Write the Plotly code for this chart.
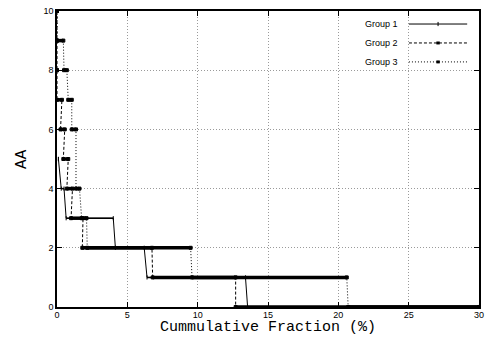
import plotly.graph_objects as go

# ---- data: step plateaus (level, start x, end x) ----
g1_levels = [5, 4, 3, 2, 1, 0]
g1_start = [0.1, 0.3, 0.65, 4.15, 6.4, 13.55]
g1_end = [0.1, 0.5, 4.0, 6.2, 13.4, 30.0]

g2_levels = [10, 9, 8, 7, 6, 5, 4, 3, 2, 1, 0]
g2_start = [0.0, 0.0, 0.0, 0.0, 0.25, 0.45, 0.7, 1.0, 1.8, 6.8, 12.7]
g2_end = [0.0, 0.0, 0.0, 0.35, 0.55, 0.8, 1.1, 1.85, 6.75, 12.7, 30.0]

g3_levels = [10, 9, 8, 7, 6, 4, 3, 2, 1, 0]
g3_start = [0.0, 0.0, 0.5, 0.8, 1.05, 1.35, 1.75, 2.15, 9.6, 20.7]
g3_end = [0.0, 0.45, 0.7, 1.05, 1.35, 1.6, 2.1, 9.5, 20.6, 30.0]

x_ticks = [0, 5, 10, 15, 20, 25, 30]
y_ticks = [0, 2, 4, 6, 8, 10]
names = ["Group 1", "Group 2", "Group 3"]
x_title = "Cummulative Fraction (%)"
y_title = "AA"


def path(levels, starts, ends):
    xs, ys = [], []
    for lv, s, e in zip(levels, starts, ends):
        xs += [s, e]
        ys += [lv, lv]
    return xs, ys


def plateaus(levels, starts, ends):
    xs, ys = [], []
    for lv, s, e in zip(levels, starts, ends):
        xs += [s, e, None]
        ys += [lv, lv, None]
    return xs, ys


fig = go.Figure()
groups = [(g1_levels, g1_start, g1_end), (g2_levels, g2_start, g2_end), (g3_levels, g3_start, g3_end)]
dashes = ["solid", "3px,2px", "1px,2px"]
thick = [1.5, 3.5, 3.5]
marks = ["line-ns", "square", "square"]

for i, (lv, s, e) in enumerate(groups):
    xs, ys = path(lv, s, e)
    fig.add_trace(go.Scatter(x=xs, y=ys, mode="lines+markers", name=names[i],
                             line=dict(color="black", width=1, dash=dashes[i]),
                             marker=dict(symbol=marks[i], size=3, color="black",
                                         line=dict(color="black", width=1)),
                             showlegend=False))
    px, py = plateaus(lv, s, e)
    fig.add_trace(go.Scatter(x=px, y=py, mode="lines",
                             line=dict(color="black", width=thick[i]),
                             showlegend=False, hoverinfo="skip"))

# legend drawn gnuplot-style (text, then sample)
shapes = [dict(type="rect", xref="paper", yref="paper", x0=0.73, x1=0.997, y0=0.80, y1=0.997,
               fillcolor="white", line=dict(width=0), layer="between")]
annotations = []
leg_y = [0.956, 0.892, 0.828]
for i in range(3):
    annotations.append(dict(xref="paper", yref="paper", x=0.812, y=leg_y[i], text=names[i],
                            showarrow=False, xanchor="right", yanchor="middle",
                            font=dict(family="Liberation Sans, Arial", size=9, color="black")))
    shapes.append(dict(type="line", xref="paper", yref="paper", x0=0.834, x1=0.972,
                       y0=leg_y[i], y1=leg_y[i],
                       line=dict(color="black", width=1, dash=dashes[i])))
    if i == 0:
        shapes.append(dict(type="line", xref="paper", yref="paper", x0=0.903, x1=0.903,
                           y0=leg_y[i] - 0.007, y1=leg_y[i] + 0.007,
                           line=dict(color="black", width=1)))
    else:
        shapes.append(dict(type="rect", xref="paper", yref="paper", x0=0.899, x1=0.907,
                           y0=leg_y[i] - 0.005, y1=leg_y[i] + 0.005,
                           fillcolor="black", line=dict(width=0)))

annotations.append(dict(xref="paper", yref="paper", x=0.5, y=-0.0693, text=x_title,
                        showarrow=False, xanchor="center", yanchor="middle", borderpad=0,
                        font=dict(family="Liberation Mono, Courier New", size=15, color="black")))
annotations.append(dict(xref="paper", yref="paper", x=-0.083, y=0.5, text=y_title, textangle=-90,
                        showarrow=False, xanchor="center", yanchor="middle",
                        font=dict(family="Liberation Mono, Courier New", size=16, color="black")))

axis_common = dict(showgrid=True, gridcolor="#9a9a9a", griddash="1px,2px", gridwidth=1,
                   showline=True, linecolor="black", linewidth=1.5, mirror="allticks",
                   ticks="inside", ticklen=5, tickcolor="black", zeroline=False, automargin=False,
                   tickfont=dict(family="Liberation Sans, Arial", size=9, color="black"))

fig.update_layout(
    width=497, height=337,
    margin=dict(l=57, r=18, t=11, b=30, autoexpand=False),
    paper_bgcolor="white", plot_bgcolor="white",
    showlegend=False,
    shapes=shapes, annotations=annotations,
    xaxis=dict(range=[0, 30], tickvals=x_ticks, ticktext=[str(v) for v in x_ticks],
               ticklabelstandoff=-2, **axis_common),
    yaxis=dict(range=[0, 10], tickvals=y_ticks, ticktext=[str(v) for v in y_ticks], **axis_common),
)

fig.write_html("out.html", config={"displayModeBar": False},
               post_script="document.body.style.margin='0';document.body.style.overflow='hidden';")
